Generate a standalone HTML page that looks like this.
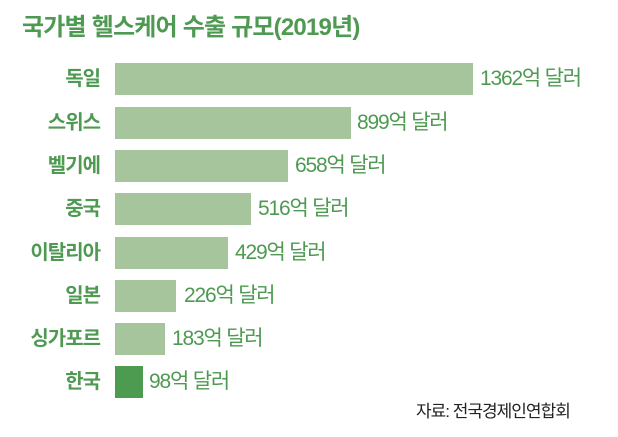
<!DOCTYPE html>
<html><head><meta charset="utf-8"><style>
body{margin:0;width:618px;height:437px;background:#fff;position:relative;overflow:hidden;font-family:"Liberation Sans","Noto Sans CJK KR",sans-serif}
.t{position:absolute;left:22px;top:7px;font-size:24px;font-weight:bold;color:#4e9a52;letter-spacing:-0.8px}
.l{position:absolute;right:518px;font-size:20px;font-weight:bold;color:#4e9a52;line-height:32px;letter-spacing:-1px}
.b{position:absolute;left:115px;height:32px;background:#a6c59c}
.v{position:absolute;font-size:21px;color:#4e9a52;line-height:32px;letter-spacing:-1.2px}
.s{position:absolute;left:416px;top:397px;font-size:17px;color:#222;letter-spacing:-1px}
</style></head><body>
<div class="t">국가별 헬스케어 수출 규모(2019년)</div>
<div class="l" style="top:63px">독일</div><div class="b" style="top:63px;width:358px"></div><div class="v" style="top:63px;left:480px">1362억 달러</div>
<div class="l" style="top:107px">스위스</div><div class="b" style="top:107px;width:236px"></div><div class="v" style="top:107px;left:357px">899억 달러</div>
<div class="l" style="top:150px">벨기에</div><div class="b" style="top:150px;width:173px"></div><div class="v" style="top:150px;left:295px">658억 달러</div>
<div class="l" style="top:193px">중국</div><div class="b" style="top:193px;width:136px"></div><div class="v" style="top:193px;left:258px">516억 달러</div>
<div class="l" style="top:237px">이탈리아</div><div class="b" style="top:237px;width:113px"></div><div class="v" style="top:237px;left:235px">429억 달러</div>
<div class="l" style="top:280px">일본</div><div class="b" style="top:280px;width:61px"></div><div class="v" style="top:280px;left:184px">226억 달러</div>
<div class="l" style="top:323px">싱가포르</div><div class="b" style="top:323px;width:50px"></div><div class="v" style="top:323px;left:172px">183억 달러</div>
<div class="l" style="top:366px">한국</div><div class="b" style="top:366px;width:28px;background:#4d9b50"></div><div class="v" style="top:366px;left:149px">98억 달러</div>
<div class="s">자료: 전국경제인연합회</div>
</body></html>
